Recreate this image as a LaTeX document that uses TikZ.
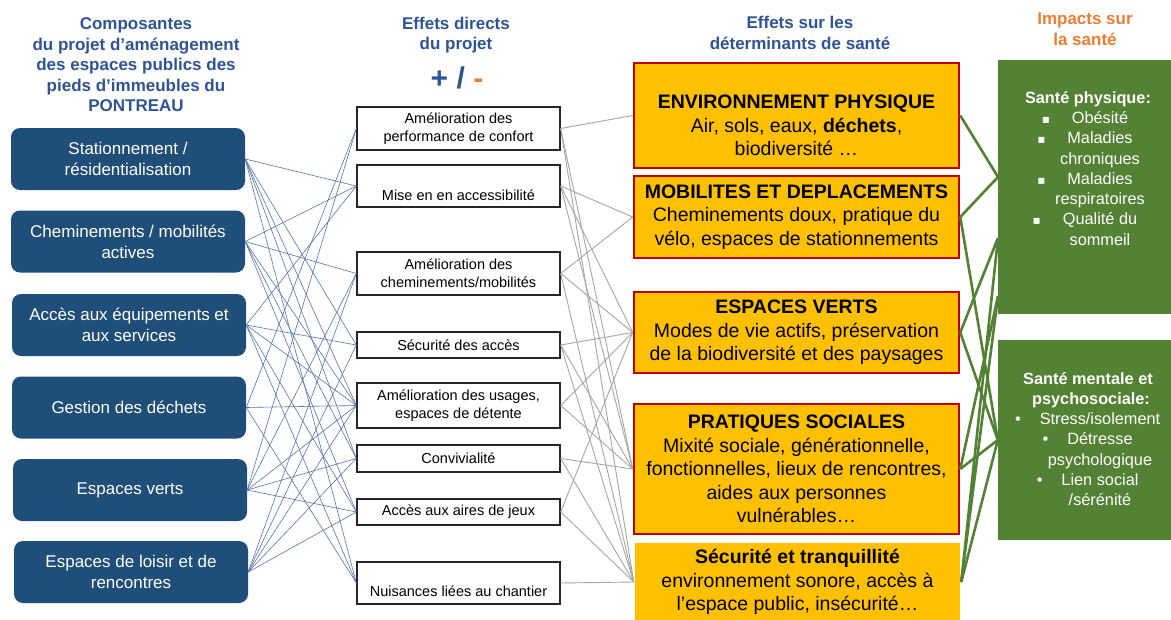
\documentclass[tikz,border=0pt]{standalone}
\usepackage{fontspec}
\setmainfont{Liberation Sans}
\newfontfamily\symfont{DejaVu Sans}

\definecolor{bleuTitre}{RGB}{47,84,150}
\definecolor{bleuComp}{RGB}{31,78,121}
\definecolor{orangeDet}{RGB}{255,192,0}
\definecolor{rougeDet}{RGB}{192,0,0}
\definecolor{vertImp}{RGB}{84,130,53}
\definecolor{orangeTitre}{RGB}{237,125,49}
\definecolor{bleuLien}{RGB}{85,115,175}
\definecolor{grisLien}{RGB}{165,165,165}

\tikzset{
	comp/.style={rectangle, rounded corners=9pt, fill=bleuComp, text=white, minimum width=234, minimum height=62, inner sep=0, align=center, font=\fontsize{17}{21}\selectfont},
	effet/.style={rectangle, draw=black!85, line width=1.4pt, fill=white, minimum width=203, inner sep=0, align=center, font=\fontsize{14.5}{18}\selectfont},
	deter/.style={rectangle, fill=orangeDet, draw=rougeDet, line width=2.5pt, minimum width=325, inner sep=0, align=center, font=\fontsize{19.5}{23.5}\selectfont},
	impact/.style={rectangle, fill=vertImp, minimum width=176, inner sep=0},
	impacttexte/.style={text=white, align=center, inner sep=0, font=\fontsize{16.3}{20.3}\selectfont},
	titre/.style={text=bleuTitre, align=center, inner sep=0, font=\bfseries\fontsize{17}{20.5}\selectfont},
	lienB/.style={draw=bleuLien, line width=0.6pt},
	lienG/.style={draw=grisLien, line width=0.9pt},
	lienV/.style={draw=vertImp, line width=2.6pt},
}
\newcommand{\carre}{\llap{{\symfont\fontsize{12}{12}\selectfont ▪}\hspace{22pt}}}
\newcommand{\puce}{\llap{•\hspace{19pt}}}

\begin{document}
\begin{tikzpicture}[x=1pt, y=-1pt]
	%%%%% START %%%%%
	\useasboundingbox (0,0) rectangle (1171,619);
	
	% titres
	\node[titre] (tcomp) at (136,65) {Composantes\\du projet d’aménagement\\des espaces publics des\\pieds d’immeubles du\\PONTREAU};
	\node[titre] (teffets) at (456,35) {Effets directs\\du projet};
	\node[font=\bfseries\fontsize{30}{30}\selectfont] (signes) at (457,78) {\textcolor{bleuTitre}{+ /} \textcolor{orangeTitre}{-}};
	\node[titre] (tdeter) at (800,33) {Effets sur les\\déterminants de santé};
	\node[titre, text=orangeTitre] (timpact) at (1085,29) {Impacts sur\\la santé};
	
	% composantes
	\node[comp] (c1) at (128,159) {Stationnement /\\résidentialisation};
	\node[comp] (c2) at (128,241.5) {Cheminements / mobilités\\actives};
	\node[comp] (c3) at (129,325) {Accès aux équipements et\\aux services};
	\node[comp] (c4) at (129,407.5) {Gestion des déchets};
	\node[comp] (c5) at (130,490) {Espaces verts};
	\node[comp] (c6) at (131,572) {Espaces de loisir et de\\rencontres};
	
	% effets directs
	\node[effet, minimum height=43] (e1) at (458.5,128.5) {Amélioration des\\performance de confort};
	\node[effet, minimum height=42] (e2) at (458.5,186) {\rule{0pt}{30pt}Mise en en accessibilité};
	\node[effet, minimum height=43] (e3) at (458.5,273.5) {Amélioration des\\cheminements/mobilités};
	\node[effet, minimum height=26] (e4) at (458.5,345) {Sécurité des accès};
	\node[effet, minimum height=45] (e5) at (458.5,405.5) {Amélioration des usages,\\espaces de détente};
	\node[effet, minimum height=27] (e6) at (458.5,458.5) {Convivialité};
	\node[effet, minimum height=26] (e7) at (458.5,512) {Accès aux aires de jeux};
	\node[effet, minimum height=42] (e8) at (458.5,583) {\rule{0pt}{28pt}Nuisances liées au chantier};
	
	% determinants
	\node[deter, minimum height=105] (d1) at (796.5,115.5) {\rule{0pt}{34pt}\textbf{ENVIRONNEMENT PHYSIQUE}\\Air, sols, eaux, \textbf{déchets},\\biodiversité …};
	\node[deter, minimum height=82] (d2) at (796.5,217) {\textbf{MOBILITES ET DEPLACEMENTS}\\Cheminements doux, pratique du\\vélo, espaces de stationnements};
	\node[deter, minimum height=81] (d3) at (796.5,332.5) {\textbf{ESPACES VERTS}\\Modes de vie actifs, préservation\\de la biodiversité et des paysages};
	\node[deter, minimum height=130] (d4) at (796.5,469) {\textbf{PRATIQUES SOCIALES}\\Mixité sociale, générationnelle,\\fonctionnelles, lieux de rencontres,\\aides aux personnes\\vulnérables…};
	\node[deter, draw=none, minimum height=78] (d5) at (797.5,582) {\textbf{Sécurité et tranquillité}\\environnement sonore, accès à\\l’espace public, insécurité…};
	
	% impacts
	\node[impact, minimum height=254] (i1) at (1086,187) {};
	\node[impact, minimum height=200] (i2) at (1086,440) {};
	\node[impacttexte, anchor=north] (i1t) at (1100,91) {\textbf{Santé physique:}\makebox[24pt]{}\\\carre Obésité\\\carre Maladies\\chroniques\\\carre Maladies\\respiratoires\\\carre Qualité du\\sommeil};
	\node[impacttexte] (i2t) at (1100,439) {\textbf{Santé mentale et}\makebox[24pt]{}\\\textbf{psychosociale:}\makebox[18pt]{}\\\puce Stress/isolement\\\puce Détresse\\psychologique\\\puce Lien social\\/sérénité};
	\coordinate (g1a) at (998,177);
	\coordinate (g1b) at (998,238);
	\coordinate (g1c) at (998,296);
	
	% liens composantes -> effets
	\foreach \a/\b in {c1/e2,c1/e4,c1/e5,c1/e6,c1/e8,
		c2/e2,c2/e3,c2/e5,c2/e6,c2/e7,
		c3/e2,c3/e4,c3/e5,c3/e7,c3/e8,
		c4/e1,c4/e5,c4/e8,
		c5/e1,c5/e3,c5/e5,c5/e6,c5/e7,
		c6/e3,c6/e4,c6/e5,c6/e6,c6/e7}
		\draw[lienB] (\a.east) -- (\b.west);
	
	% liens effets -> determinants
	\foreach \a/\b in {e1/d1,e1/d4,e1/d5,
		e2/d2,e2/d3,e2/d4,
		e3/d2,e3/d3,e3/d5,
		e4/d3,e4/d4,e4/d5,
		e5/d3,e5/d4,
		e6/d4,e6/d5,
		e7/d3,e7/d5,
		e8/d5}
		\draw[lienG] (\a.east) -- (\b.west);
	
	% liens determinants -> impacts
	\draw[lienV] (d1.east) -- (g1a);
	\draw[lienV] (d2.east) -- (g1a);
	\draw[lienV] (d2.east) -- (i2.west);
	\draw[lienV] (d3.east) -- (g1b);
	\draw[lienV] (d3.east) -- (i2.west);
	\draw[lienV] (d4.east) -- (i2.west);
	\draw[lienV] (d4.east) -- (g1c);
	\draw[lienV] (d5.east) -- (g1b);
	\draw[lienV] (d5.east) -- (g1c);
	\draw[lienV] (d5.east) -- (i2.west);
	
	%%%%% END %%%%%
\end{tikzpicture}
\end{document}
